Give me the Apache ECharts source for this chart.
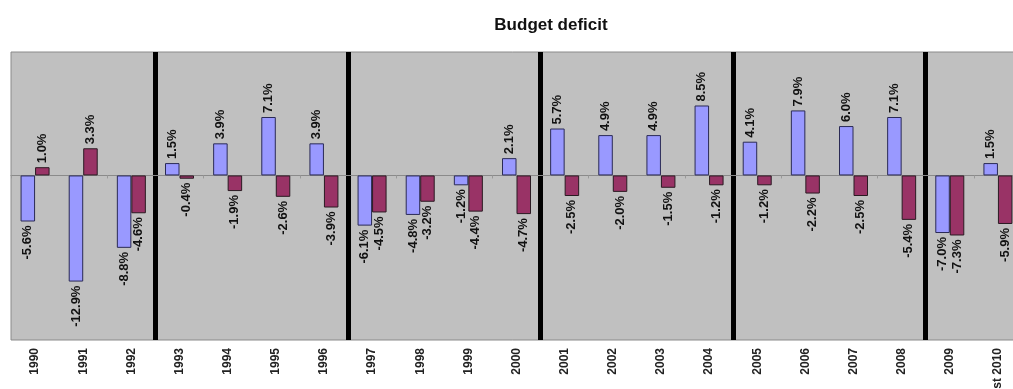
<!DOCTYPE html>
<html>
<head>
<meta charset="utf-8">
<script src="https://cdn.jsdelivr.net/npm/echarts@6/dist/echarts.min.js"></script>
<style>
html,body{margin:0;padding:0;background:#fff;}
#c{width:1013px;height:389px;}
</style>
</head>
<body>
<div id="c"></div>
<script>
var categories = ['1990','1991','1992','1993','1994','1995','1996','1997','1998','1999','2000','2001','2002','2003','2004','2005','2006','2007','2008','2009','Est 2010'];
var seriesA = [-5.6,-12.9,-8.8,1.5,3.9,7.1,3.9,-6.1,-4.8,-1.2,2.1,5.7,4.9,4.9,8.5,4.1,7.9,6.0,7.1,-7.0,1.5];
var seriesB = [1.0,3.3,-4.6,-0.4,-1.9,-2.6,-3.9,-4.5,-3.2,-4.4,-4.7,-2.5,-2.0,-1.5,-1.2,-1.2,-2.2,-2.5,-5.4,-7.3,-5.9];
var termStarts = [3,7,11,15,19];
var titleText = 'Budget deficit';

function toData(arr){
  return arr.map(function(v){
    return {
      value: v,
      label: v >= 0
        ? {position:'top', align:'left', verticalAlign:'middle', rotate:90, distance:4}
        : {position:'bottom', align:'right', verticalAlign:'middle', rotate:90, distance:4}
    };
  });
}
var labelBase = {
  show:true, fontSize:13, fontWeight:'bold', color:'#111',
  fontFamily:'Liberation Sans, Arial, sans-serif',
  formatter:function(p){ return p.value.toFixed(1)+'%'; }
};

var chart = echarts.init(document.getElementById('c'), null, {renderer:'canvas'});
chart.setOption({
  animation:false,
  backgroundColor:'#fff',
  title:{
    text:titleText, left:546, top:12, textAlign:'center',
    textStyle:{fontSize:17, fontWeight:'bold', color:'#111', fontFamily:'Liberation Sans, Arial, sans-serif'}
  },
  grid:{
    left:11, top:52, width:1011, height:288,
    outerBoundsMode:'none', containLabel:false,
    show:true, backgroundColor:'#c0c0c0', borderColor:'#8a8a8a', borderWidth:1
  },
  xAxis:[{
    type:'category', data:categories, position:'bottom',
    axisLine:{show:false, onZero:false},
    axisTick:{show:false},
    axisLabel:{interval:0, rotate:90, margin:8, fontSize:12, fontWeight:'bold', color:'#222',
      fontFamily:'Liberation Sans, Arial, sans-serif'},
    splitLine:{show:true, interval:function(i){ return termStarts.indexOf(i) >= 0; },
      lineStyle:{color:'#000', width:5}}
  },{
    type:'category', data:categories, position:'bottom',
    axisLine:{show:true, onZero:true, lineStyle:{color:'#8a8a8a', width:1}},
    axisTick:{show:true, length:3, inside:false, lineStyle:{color:'#999'}},
    axisLabel:{show:false},
    splitLine:{show:false}
  }],
  yAxis:{
    type:'value', min:-20, max:15, show:false,
    splitLine:{show:false}
  },
  series:[{
    type:'bar', xAxisIndex:0, data:toData(seriesA), barWidth:14.5, barGap:'0%',
    itemStyle:{color:'#9999ff', borderColor:'#2a2a55', borderWidth:1},
    label:labelBase
  },{
    type:'bar', xAxisIndex:0, data:toData(seriesB), barWidth:14.5, barGap:'0%',
    itemStyle:{color:'#993366', borderColor:'#2a1a22', borderWidth:1},
    label:labelBase
  }]
});
</script>
</body>
</html>
